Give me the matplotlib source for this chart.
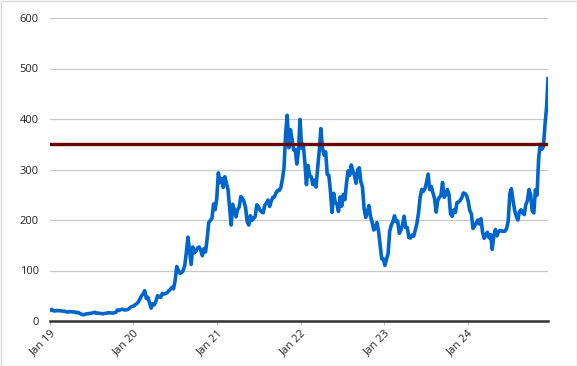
import matplotlib
matplotlib.use("Agg")
import matplotlib.pyplot as plt
import matplotlib.dates as mdates
import pandas as pd
from matplotlib.patches import Rectangle

# Weekly values
v2019 = [21.2, 23.0, 20.1, 19.8, 20.9, 20.4, 20.5, 19.9, 19.7, 18.9, 18.3, 17.6, 18.7,
         18.4, 17.9, 18.2, 16.5, 17.1, 15.9, 14.1, 12.7, 12.4, 13.6, 14.2, 14.8, 14.9,
         15.6, 16.4, 17.2, 15.2, 15.6, 15.1, 14.6, 14.1, 15.0, 15.2, 16.5, 16.0, 16.1,
         15.6, 16.5, 17.2, 21.9, 20.9, 22.5, 23.5, 22.2, 21.8, 22.4, 23.8, 27.0, 28.7]
v2020 = [29.5, 32.1, 34.2, 37.6, 43.4, 49.9, 53.6, 60.1, 44.5, 47.0, 36.4, 25.5, 34.3,
         32.0, 38.9, 50.1, 48.3, 46.8, 54.6, 53.3, 54.6, 55.7, 59.9, 62.4, 66.6, 63.7,
         80.1, 108.0, 100.3, 94.4, 95.4, 99.9, 110.0, 135.7, 166.0, 139.4, 112.0, 146.7,
         135.0, 138.4, 144.7, 146.6, 140.0, 129.3, 143.3, 136.7, 163.2, 195.0, 199.3,
         203.3, 231.7, 220.6]
v2021 = [243.0, 293.3, 274.0, 282.2, 264.5, 285.9, 272.8, 260.9, 225.2, 190.0, 231.2,
         218.3, 206.2, 220.6, 225.7, 246.3, 243.0, 236.5, 224.1, 196.6, 190.0, 208.4,
         199.3, 203.3, 206.7, 229.9, 226.6, 219.6, 215.8, 214.4, 229.1, 233.6, 239.5,
         226.8, 237.1, 244.7, 245.7, 253.9, 258.5, 258.4, 264.0, 281.0, 303.2, 371.3,
         407.4, 343.0, 379.0, 360.6, 339.0, 339.5, 310.9, 336.3, 399.0]
v2022 = [342.3, 349.9, 315.0, 270.0, 308.0, 287.6, 285.7, 269.9, 279.0, 265.1, 302.6,
         336.9, 381.0, 343.1, 328.3, 335.0, 290.3, 288.5, 256.5, 215.0, 252.8, 234.5,
         232.2, 216.8, 245.7, 227.3, 250.8, 240.1, 272.2, 297.1, 288.2, 309.0, 296.7,
         288.1, 272.7, 299.7, 303.4, 275.3, 265.3, 223.1, 205.0, 214.4, 228.5, 207.5,
         196.0, 180.2, 182.9, 194.9, 179.1, 150.2, 123.2, 123.2]
v2023 = [110.0, 122.4, 133.4, 177.9, 190.0, 196.9, 208.3, 196.9, 197.8, 173.4, 180.1,
         190.4, 207.5, 185.0, 185.0, 165.1, 164.3, 170.1, 168.0, 180.1, 193.2, 214.0,
         244.4, 260.5, 256.6, 261.8, 274.4, 291.0, 260.0, 266.4, 253.9, 242.7, 215.5,
         238.6, 245.0, 248.5, 274.4, 244.9, 250.2, 260.5, 251.1, 212.0, 207.3, 220.0,
         214.7, 234.3, 235.5, 238.8, 243.8, 253.5, 252.5, 248.5]
v2024 = [237.5, 218.9, 212.2, 183.3, 187.9, 193.6, 200.0, 192.0, 202.6, 175.3, 163.6,
         170.8, 175.8, 164.9, 171.1, 142.0, 168.3, 181.2, 168.5, 177.5, 179.2, 178.1,
         177.5, 178.0, 183.0, 197.9, 251.5, 262.0, 239.2, 219.8, 207.7, 200.0, 216.1,
         220.3, 214.1, 210.7, 230.3, 238.3, 260.5, 250.1, 217.8, 214.0, 260.0, 249.0,
         321.2, 350.0, 340.0, 345.2, 389.2, 424.8]
last_date = "2024-12-17"
last_value = 479.9
threshold = 350
tick_years = [2019, 2020, 2021, 2022, 2023, 2024]

values = v2019 + v2020 + v2021 + v2022 + v2023 + v2024 + [last_value]
dates = list(pd.date_range("2019-01-02", periods=len(values) - 1, freq="7D")) + [pd.Timestamp(last_date)]

fig = plt.figure(figsize=(5.77, 3.66), dpi=100)
ax = fig.add_axes([50 / 577, 1 - 321 / 366, 498 / 577, 303 / 366])

ax.set_ylim(0, 600)
ax.set_yticks(range(0, 601, 100))
ax.set_xlim(pd.Timestamp("2019-01-01"), pd.Timestamp(last_date))
ax.grid(axis="y", color="#C8C8C8", linewidth=0.9)
ax.set_axisbelow(True)

ax.plot(dates, values, color="#0066CC", linewidth=2.6, solid_joinstyle="round", zorder=3)
ax.plot([dates[0], dates[-1]], [threshold, threshold], color="#6B0000", linewidth=2.4, zorder=4)

for s in ["top", "right", "left"]:
    ax.spines[s].set_visible(False)
ax.spines["bottom"].set_color("#333333")
ax.spines["bottom"].set_linewidth(1.8)
ax.spines["bottom"].set_zorder(5)

ax.set_xticks([pd.Timestamp(f"{y}-01-01") for y in tick_years])
ax.xaxis.set_major_formatter(mdates.DateFormatter("%b %y"))
ax.tick_params(axis="x", length=3, color="#BFBFBF", labelsize=8, labelcolor="#262626", pad=2)
ax.tick_params(axis="y", length=0, labelsize=8, labelcolor="#262626", pad=8)
for lab in ax.get_xticklabels():
    lab.set_rotation(45)
    lab.set_ha("right")
    lab.set_rotation_mode("anchor")
for lab in ax.get_xticklabels() + ax.get_yticklabels():
    lab.set_family("Open Sans")

fig.patches.append(Rectangle((0.5 / 577, 0.5 / 366), 1 - 1 / 577, 1 - 1 / 366,
                             transform=fig.transFigure, fill=False,
                             edgecolor="#D9D9D9", linewidth=1))

fig.savefig("out.png", dpi=100)
